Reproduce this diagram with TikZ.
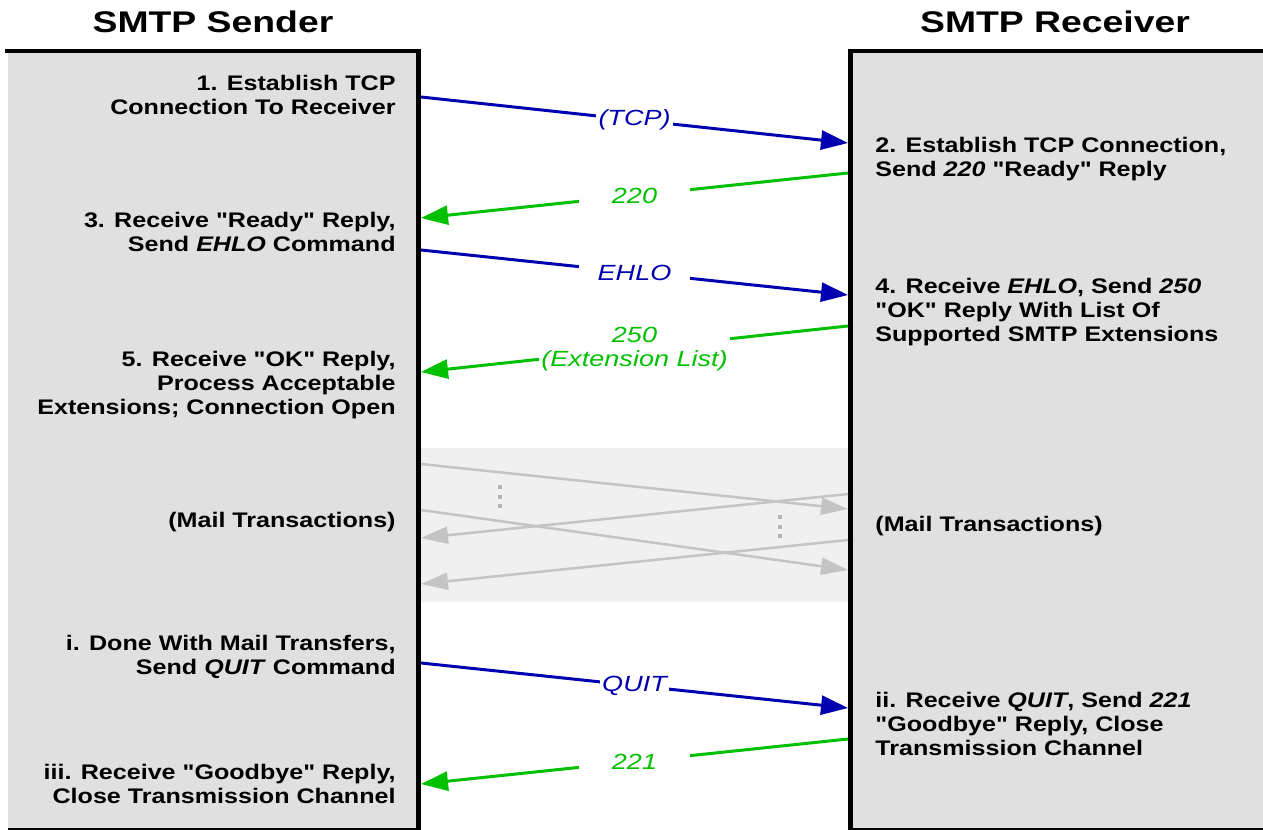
\documentclass[tikz,border=0pt]{standalone}
\usepackage{fontspec}
\setmainfont{Liberation Sans}
\usepackage{xcolor}
\usetikzlibrary{arrows.meta}
\definecolor{boxgrey}{HTML}{E0E0E0}
\definecolor{mailgrey}{HTML}{F0F0F0}
\definecolor{cmdblue}{HTML}{0000B0}
\definecolor{replygreen}{HTML}{00C000}
\definecolor{fadegrey}{HTML}{C4C4C4}
\definecolor{dotgrey}{HTML}{B4B4B4}
\newcommand{\qq}[1]{\textquotedbl#1\textquotedbl}
\tikzstyle{msg} = [line width=0.06cm, -{Triangle[length=0.54cm,width=0.38cm]}]
\tikzstyle{cmd} = [msg, cmdblue]
\tikzstyle{reply} = [msg, replygreen]
\tikzstyle{faded} = [line width=0.05cm, fadegrey, -{Triangle[length=0.54cm,width=0.34cm]}]
\tikzstyle{heading} = [xscale=1.25, font=\fontsize{17}{20}\selectfont\bfseries]
\tikzstyle{sendtext} = [anchor=east, align=right, inner sep=0pt, xscale=1.19, font=\fontsize{12}{13.9}\selectfont\bfseries]
\tikzstyle{recvtext} = [sendtext, anchor=west, align=left]
\tikzstyle{msglabel} = [midway, fill=white, inner sep=1pt, xscale=1.23, font=\fontsize{12.5}{13.9}\selectfont\itshape]
\tikzstyle{widelabel} = [msglabel, minimum width=1.8cm]

\begin{document}
\begin{tikzpicture}[x=0.02cm, y=-0.02cm]
		\useasboundingbox (0,0) rectangle (1263,830);

		% the two sides
		\fill[boxgrey] (8,51) rectangle (418,830);
		\fill[boxgrey] (850,51) rectangle (1263,830);
		\fill[mailgrey] (421,448) rectangle (848,602);
		\draw[line width=0.09cm] (5,51) -- (418.5,51) -- (418.5,830);
		\draw[line width=0.06cm] (8,829) -- (418.5,829);
		\draw[line width=0.09cm] (1263,51) -- (850.5,51) -- (850.5,830);
		\draw[line width=0.06cm] (850.5,829) -- (1263,829);

		\node (sender) [heading] at (213,22) {SMTP Sender};
		\node (receiver) [heading] at (1055,22) {SMTP Receiver};

		% sender steps
		\node (send1) [sendtext] at (396,95) {1. Establish TCP\\Connection To Receiver};
		\node (send3) [sendtext] at (396,232) {3. Receive \qq{Ready} Reply,\\Send \textit{EHLO} Command};
		\node (send5) [sendtext] at (396,385) {5. Receive \qq{OK} Reply,\\Process Acceptable\\Extensions; Connection Open};
		\node (sendmail) [sendtext] at (396,522) {(Mail Transactions)};
		\node (sendi) [sendtext] at (396,657) {i. Done With Mail Transfers,\\Send \textit{QUIT} Command};
		\node (sendiii) [sendtext] at (396,784) {iii. Receive \qq{Goodbye} Reply,\\Close Transmission Channel};

		% receiver steps
		\node (recv2) [recvtext] at (875,159) {2. Establish TCP Connection,\\Send \textit{220} \qq{Ready} Reply};
		\node (recv4) [recvtext] at (875,312) {4. Receive \textit{EHLO}, Send \textit{250}\\\qq{OK} Reply With List Of\\Supported SMTP Extensions};
		\node (recvmail) [recvtext] at (875,526) {(Mail Transactions)};
		\node (recvii) [recvtext] at (875,724) {ii. Receive \textit{QUIT}, Send \textit{221}\\\qq{Goodbye} Reply, Close\\Transmission Channel};

		% end points on the borders
		\coordinate (tcpS) at (421,97);   \coordinate (tcpR) at (848,143);
		\coordinate (rdyR) at (848,173);  \coordinate (rdyS) at (421,218);
		\coordinate (ehloS) at (421,250); \coordinate (ehloR) at (848,295);
		\coordinate (okR) at (848,326);   \coordinate (okS) at (421,372);
		\coordinate (quitS) at (421,663); \coordinate (quitR) at (848,708);
		\coordinate (byeR) at (848,739);  \coordinate (byeS) at (421,784);

		\draw [cmd] (tcpS) -- node[msglabel] {(TCP)} (tcpR);
		\draw [reply] (rdyR) -- node[widelabel] {220} (rdyS);
		\draw [cmd] (ehloS) -- node[widelabel] {EHLO} (ehloR);
		\draw [reply] (okR) -- node[msglabel, align=center] {250\\(Extension List)} (okS);
		\draw [cmd] (quitS) -- node[msglabel] {QUIT} (quitR);
		\draw [reply] (byeR) -- node[widelabel] {221} (byeS);

		% mail transactions
		\coordinate (m1S) at (421,464); \coordinate (m1R) at (848,509);
		\coordinate (m2R) at (848,494); \coordinate (m2S) at (421,538);
		\coordinate (m3S) at (421,510); \coordinate (m3R) at (848,570);
		\coordinate (m4R) at (848,540); \coordinate (m4S) at (421,584);
		\draw [faded] (m1S) -- (m1R);
		\draw [faded] (m2R) -- (m2S);
		\draw [faded] (m3S) -- (m3R);
		\draw [faded] (m4R) -- (m4S);
		\foreach \x/\y in {500/487, 780/517}
			\foreach \d in {0,9.5,19}
				\fill[dotgrey] (\x-2,\y+\d-2) rectangle ++(4,4);
	\end{tikzpicture}
\end{document}
